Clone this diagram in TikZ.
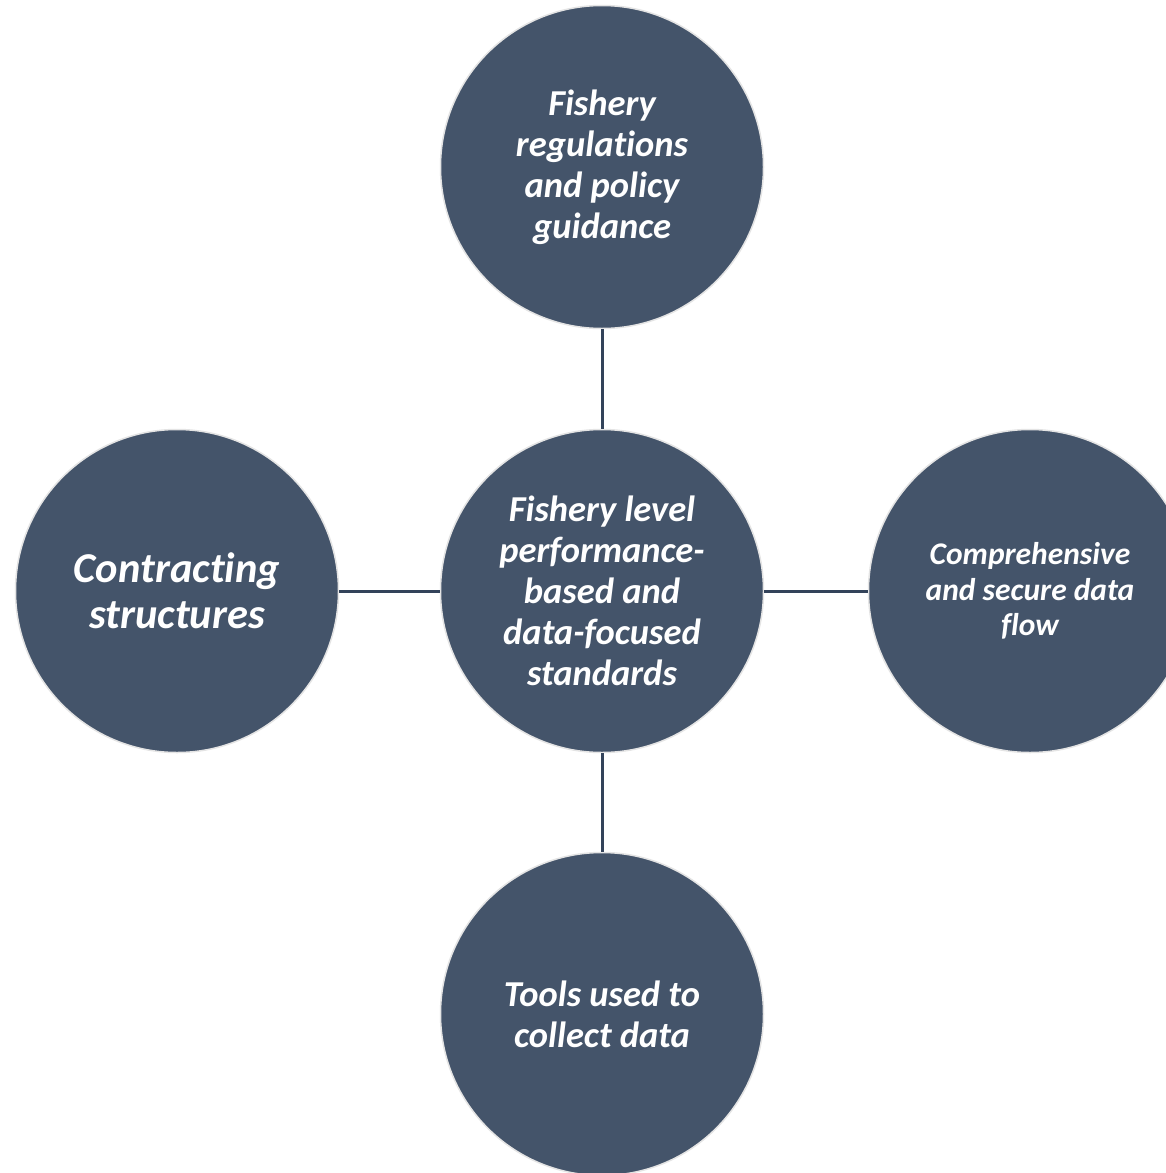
\documentclass[tikz,border=0pt]{standalone}
\usepackage{fontspec}
\setmainfont[Ligatures=NoCommon]{Carlito}
\definecolor{disc}{HTML}{44546A}
\definecolor{rim}{HTML}{E4E4E4}
\definecolor{link}{HTML}{33435A}
\tikzset{
  disc/.style={circle, fill=disc, draw=rim, line width=1.5pt, minimum size=323pt, inner sep=0pt,
    text=white, align=center, font=\bfseries\itshape},
  mid/.style={font=\fontsize{36.5}{41}\selectfont\bfseries\itshape},
  big/.style={font=\fontsize{42.5}{46}\selectfont\bfseries\itshape},
  small/.style={font=\fontsize{31.5}{35.5}\selectfont\bfseries\itshape},
  link/.style={draw=link, line width=3pt}
}
\begin{document}
\begin{tikzpicture}[x=1pt,y=-1pt]
\useasboundingbox (0,0) rectangle (1166,1173);
\fill[white] (0,0) rectangle (1166,1173);
\node[disc, mid] (c) at (602,591) {Fishery level\\performance-\\based and\\data-focused\\standards};
\node[disc, mid] (t) at (602,167) {Fishery\\regulations\\and policy\\guidance};
\node[disc, big] (l) at (177,591) {Contracting\\structures};
\node[disc, small] (r) at (1030,591) {Comprehensive\\and secure data\\flow};
\node[disc, mid] (b) at (602,1014) {Tools used to\\collect data};
\draw[link] (t.south) -- (c.north);
\draw[link] (c.south) -- (b.north);
\draw[link] (l.east) -- (c.west);
\draw[link] (c.east) -- (r.west);
\end{tikzpicture}
\end{document}
